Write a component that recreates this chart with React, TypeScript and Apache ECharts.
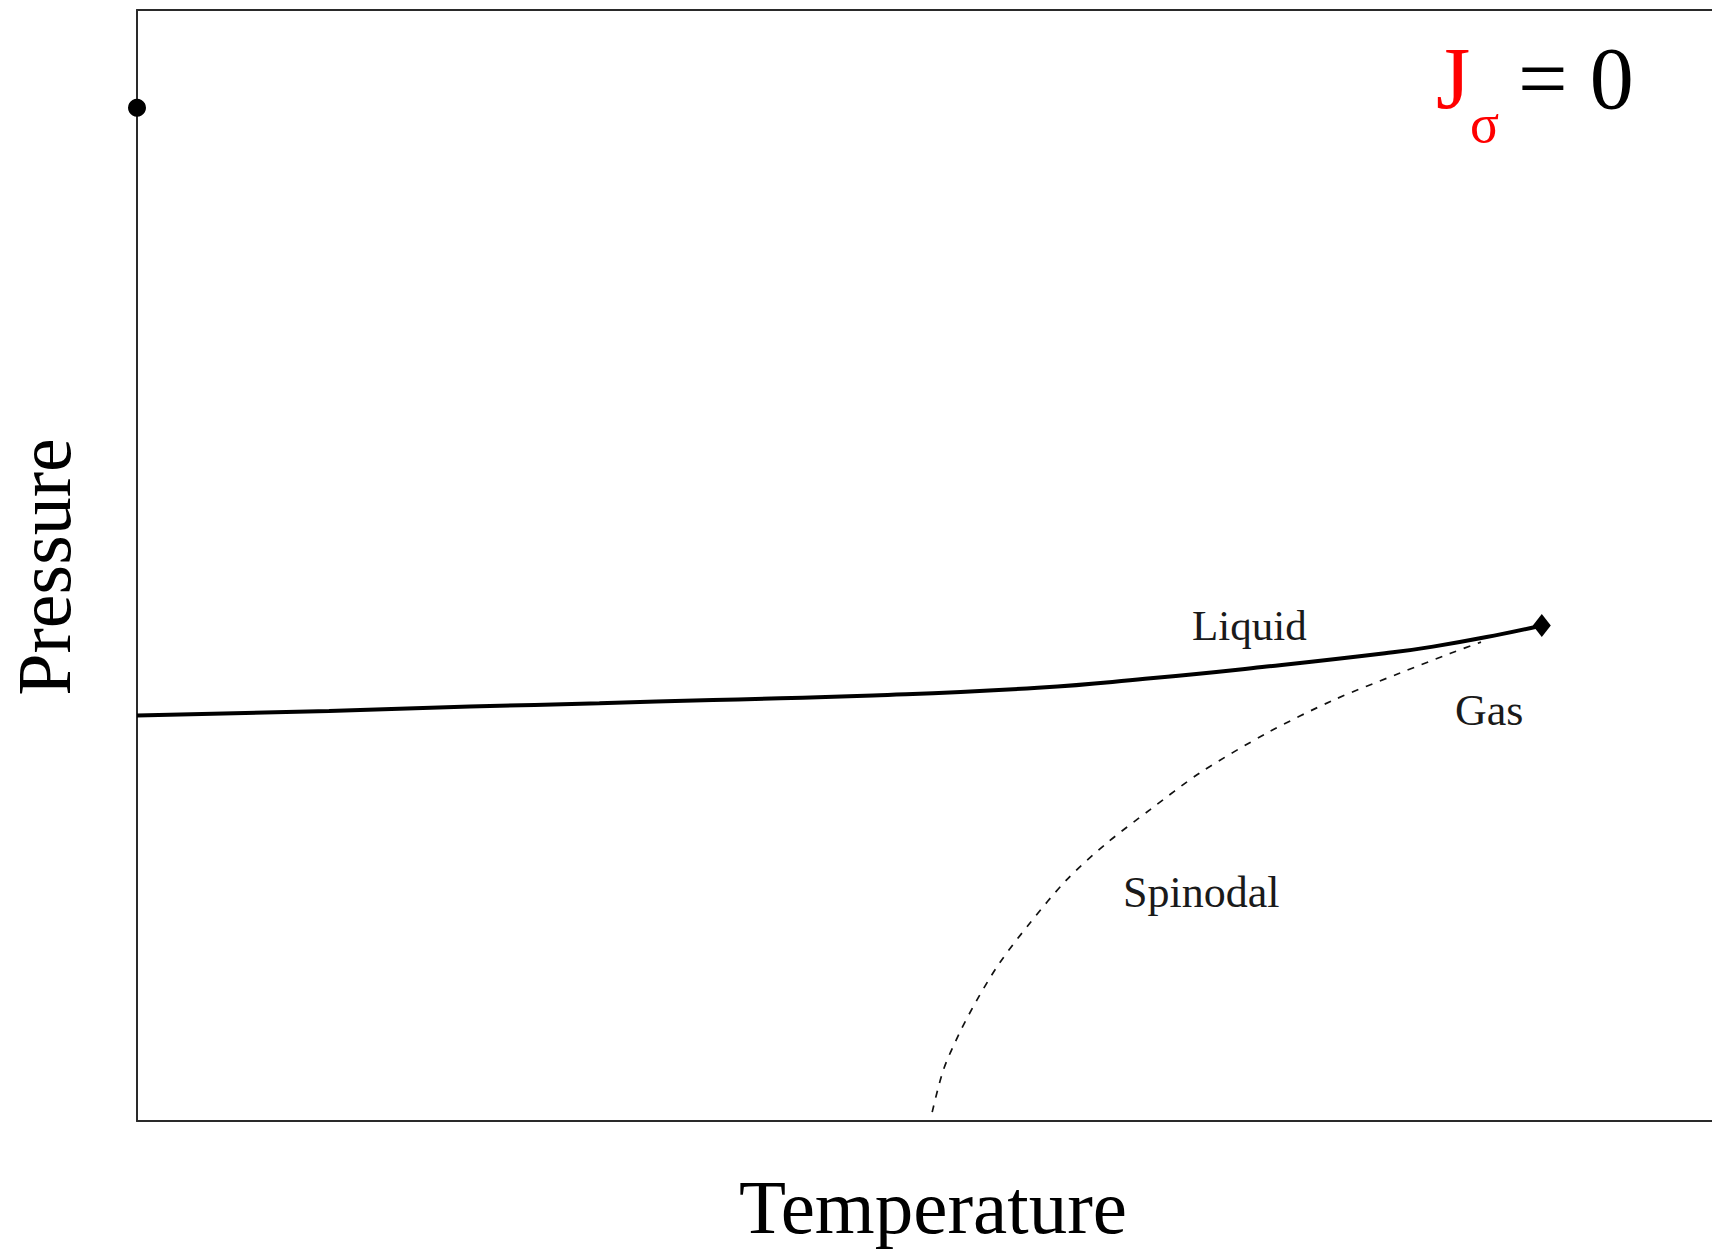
import React, { useEffect, useRef } from "react";
import * as echarts from "echarts";

// Coexistence (liquid–gas) line: temperature, pressure (arbitrary units)
const liquidLine: [number, number][] = [
  [0, 36.5], [12, 36.9], [20.8, 37.3], [28.9, 37.6], [36, 37.9], [46, 38.3],
  [56.3, 39.0], [63, 39.8], [70.6, 40.9], [78, 42.1], [81, 42.7], [85.2, 43.8],
  [87.8, 44.6],
];

// Spinodal curve
const spinodalLine: [number, number][] = [
  [49.7, 0.8], [50.4, 4.6], [51.4, 7.9], [52.5, 10.9], [53.9, 14.2], [55.8, 17.8],
  [58.1, 21.7], [60.6, 25.0], [63.3, 28.0], [66.4, 31.3], [70.6, 34.9],
  [74.8, 37.9], [78.9, 40.3], [82.1, 42.1], [84, 43.1],
];

// Special points: point on the pressure axis and the critical point
const axisPoint: [number, number] = [0, 91.2];
const criticalPoint: [number, number] = [87.8, 44.6];

// Temperature range shown (the frame runs off to the right)
const T_MIN = 0;
const T_MAX = 98.4375;
const P_MIN = 0;
const P_MAX = 100;

const SERIF = "'Liberation Serif', 'Times New Roman', 'DejaVu Serif', serif";
const FRAME = { show: true, onZero: false, lineStyle: { color: "#2a2a2a", width: 2 } };

export default function App() {
  const ref = useRef<HTMLDivElement>(null);

  useEffect(() => {
    if (!ref.current) return;
    const chart = echarts.init(ref.current, undefined, { renderer: "svg" });

    const hidden = {
      axisTick: { show: false },
      axisLabel: { show: false },
      splitLine: { show: false },
    };

    const option: any = {
      animation: false,
      backgroundColor: "#ffffff",
      grid: {
        left: 137,
        top: 10,
        right: 0,
        bottom: 132,
        outerBoundsMode: "none",
        containLabel: false,
      },
      xAxis: [
        { type: "value", position: "bottom", min: T_MIN, max: T_MAX, axisLine: FRAME, ...hidden },
        { type: "value", position: "top", min: T_MIN, max: T_MAX, axisLine: FRAME, ...hidden },
      ],
      yAxis: {
        type: "value",
        position: "left",
        min: P_MIN,
        max: P_MAX,
        axisLine: FRAME,
        ...hidden,
      },
      series: [
        {
          name: "Liquid",
          type: "line",
          data: liquidLine,
          smooth: 0.5,
          showSymbol: false,
          lineStyle: { color: "#000", width: 4 },
          z: 3,
        },
        {
          name: "Spinodal",
          type: "line",
          data: spinodalLine,
          smooth: 0.3,
          showSymbol: false,
          lineStyle: { color: "#111", width: 1.7, type: [7, 8] },
          z: 2,
        },
        {
          name: "axis point",
          type: "scatter",
          data: [axisPoint],
          symbol: "circle",
          symbolSize: 18,
          itemStyle: { color: "#000", opacity: 1 },
          clip: false,
          z: 4,
        },
        {
          name: "critical point",
          type: "scatter",
          data: [criticalPoint],
          symbol: "diamond",
          symbolSize: [18, 23],
          itemStyle: { color: "#000", opacity: 1 },
          clip: false,
          z: 4,
        },
      ],
      graphic: [
        {
          type: "text",
          x: 1192,
          y: 625,
          style: { text: "Liquid", font: `43px ${SERIF}`, fill: "#1a1a1a", align: "left", verticalAlign: "middle" },
        },
        {
          type: "text",
          x: 1455,
          y: 710,
          style: { text: "Gas", font: `44px ${SERIF}`, fill: "#1a1a1a", align: "left", verticalAlign: "middle" },
        },
        {
          type: "text",
          x: 1123,
          y: 892,
          style: { text: "Spinodal", font: `44px ${SERIF}`, fill: "#1a1a1a", align: "left", verticalAlign: "middle" },
        },
        {
          type: "text",
          x: 933,
          y: 1207,
          style: { text: "Temperature", font: `77px ${SERIF}`, fill: "#000", align: "center", verticalAlign: "middle" },
        },
        {
          type: "text",
          x: 44,
          y: 567,
          rotation: Math.PI / 2,
          style: { text: "Pressure", font: `76px ${SERIF}`, fill: "#000", align: "center", verticalAlign: "middle" },
        },
        {
          type: "text",
          x: 1436,
          y: 78,
          style: { text: "J", font: `88px ${SERIF}`, fill: "#ff0000", align: "left", verticalAlign: "middle" },
        },
        {
          type: "text",
          x: 1470,
          y: 124,
          style: { text: "σ", font: `54px ${SERIF}`, fill: "#ff0000", align: "left", verticalAlign: "middle" },
        },
        {
          type: "text",
          x: 1518,
          y: 78,
          style: { text: "= 0", font: `88px ${SERIF}`, fill: "#000", align: "left", verticalAlign: "middle" },
        },
      ],
    };

    chart.setOption(option);
    return () => chart.dispose();
  }, []);

  return (
    <div
      ref={ref}
      style={{ position: "fixed", left: 0, top: 0, width: 1712, height: 1253, background: "#fff" }}
    />
  );
}
